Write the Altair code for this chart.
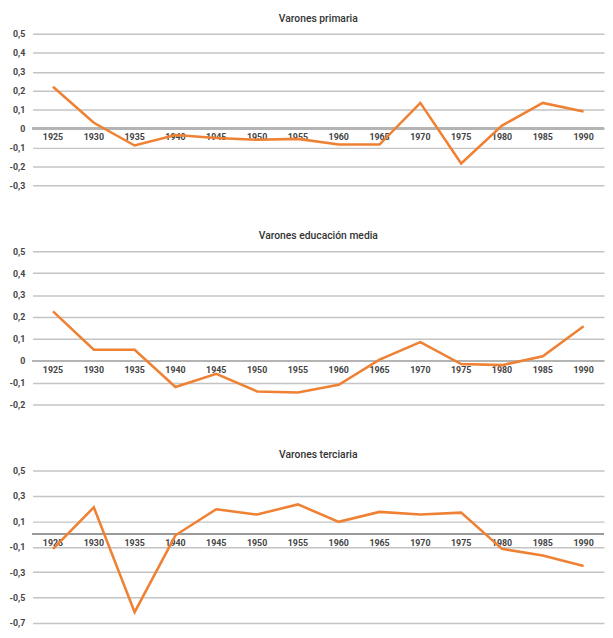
import altair as alt
import pandas as pd

years = ['1925', '1930', '1935', '1940', '1945', '1950', '1955',
         '1960', '1965', '1970', '1975', '1980', '1985', '1990']

primaria = [0.22, 0.03, -0.09, -0.035, -0.05, -0.06, -0.055,
            -0.085, -0.085, 0.135, -0.185, 0.015, 0.135, 0.09]
media = [0.225, 0.05, 0.05, -0.12, -0.06, -0.14, -0.145,
         -0.11, 0.005, 0.085, -0.015, -0.02, 0.02, 0.157]
terciaria = [-0.117, 0.21, -0.615, -0.01, 0.195, 0.153, 0.233,
             0.096, 0.174, 0.153, 0.168, -0.117, -0.169, -0.252]

titles = ['Varones primaria', 'Varones educación media', 'Varones terciaria']

ticks_primaria = [-0.3, -0.2, -0.1, 0, 0.1, 0.2, 0.3, 0.4, 0.5]
ticks_media = [-0.2, -0.1, 0, 0.1, 0.2, 0.3, 0.4, 0.5]
ticks_terciaria = [-0.7, -0.5, -0.3, -0.1, 0.1, 0.3, 0.5]

ORANGE = '#EE8133'
FONT = 'Roboto'
LABEL_EXPR = ("datum.value == 0 ? '0' : "
              "replace(replace(format(datum.value, '.1f'), '.', ','), '\u2212', '-')")


def panel(values, title, ticks, height, zero_color):
    df = pd.DataFrame({'year': years, 'value': values})
    base = alt.Chart(df)
    yscale = alt.Scale(domain=[ticks[0], ticks[-1]], nice=False, zero=False)
    yaxis = alt.Axis(values=ticks, grid=True, ticks=False, domain=False,
                     labelExpr=LABEL_EXPR, title=None,
                     minExtent=25, maxExtent=25, labelPadding=8,
                     gridColor='#c4c4c4', gridWidth=1.5,
                     labelFont=FONT, labelFontSize=9, labelFontWeight='bold',
                     labelColor='#444444')
    xenc = alt.X('year:O', scale=alt.Scale(type='point', padding=0.5), axis=None)

    zero = base.mark_rule(color=zero_color, strokeWidth=1.6).encode(
        y=alt.YDatum(0, type='quantitative', scale=yscale, axis=yaxis)
    )
    labels = base.mark_text(dy=9, font=FONT, fontSize=9, fontWeight='bold',
                            color='#444444').encode(
        x=xenc,
        y=alt.YDatum(0, type='quantitative', scale=yscale, axis=yaxis),
        text='year:N',
    )
    line = base.mark_line(color=ORANGE, strokeWidth=2.6).encode(
        x=xenc,
        y=alt.Y('value:Q', scale=yscale, axis=yaxis),
    )
    return alt.layer(zero, labels, line).properties(
        width=581, height=height,
        title=alt.TitleParams(title, font=FONT, fontSize=10.5, fontWeight=500,
                              color='#333333', anchor='middle', offset=6),
    )


chart = alt.vconcat(
    panel(primaria, titles[0], ticks_primaria, 154, '#b4b4b4'),
    panel(media, titles[1], ticks_media, 156, '#b4b4b4'),
    panel(terciaria, titles[2], ticks_terciaria, 155, '#9a9a9a'),
    spacing=41,
).properties(
    padding={'left': 0, 'top': 0, 'right': 0, 'bottom': 0},
    background='white',
).configure_view(stroke=None)

chart.save('out.html', embed_options={'renderer': 'svg', 'actions': False})
